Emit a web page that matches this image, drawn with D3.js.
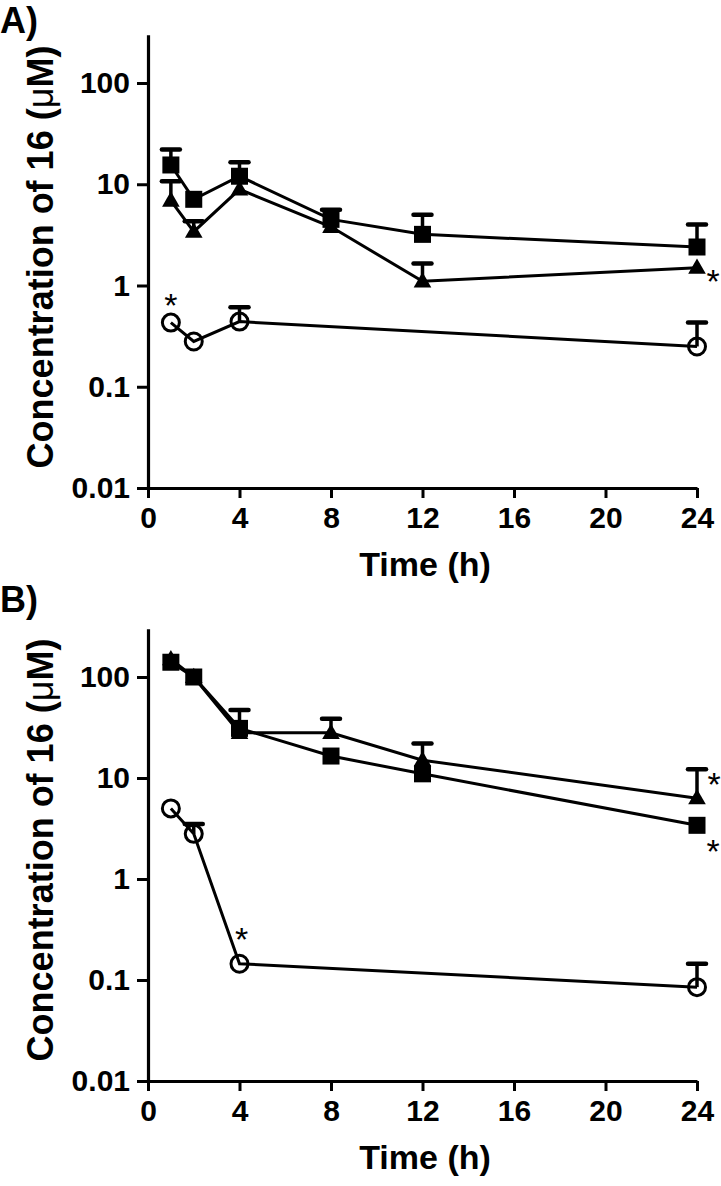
<!DOCTYPE html>
<html>
<head>
<meta charset="utf-8">
<script src="https://cdn.jsdelivr.net/npm/d3@7"></script>
<style>
  html, body { margin: 0; padding: 0; background: #fff; }
  svg { display: block; }
  text { font-family: "Liberation Sans", Arial, sans-serif; fill: #000; }
</style>
</head>
<body>
<script>
// ---------- data ----------
const times = [1, 2, 4, 8, 12, 24];
const circleTimes = [1, 2, 4, 24];
const xTicks = [0, 4, 8, 12, 16, 20, 24];
const yTicks = [0.01, 0.1, 1, 10, 100];
const yTickLabels = ["0.01", "0.1", "1", "10", "100"];

// Panel A
const aSquare      = [15.5, 7.1, 12.0, 4.5, 3.2, 2.4];
const aSquareErr   = [22, null, 16.5, 5.6, 5.0, 4.0];
const aTriangle    = [6.9, 3.4, 8.9, 3.8, 1.1, 1.5];
const aTriangleErr = [10.7, 4.3, null, null, 1.65, null];
const aCircle      = [0.43, 0.28, 0.44, 0.25];
const aCircleErr   = [null, null, 0.61, 0.43];

// Panel B
const bSquare      = [140, 100, 31, 16.5, 11, 3.4];
const bSquareErr   = [null, null, 47, null, null, null];
const bTriangle    = [150, 100, 28, 28, 15, 6.3];
const bTriangleErr = [null, null, null, 38.5, 22, 12.2];
const bCircle      = [5.0, 2.8, 0.145, 0.085];
const bCircleErr   = [null, 3.5, null, 0.145];

// significance marks, anchored to a point (time, value)
const aStars = [{t: 1, v: 0.43, side: "above"}, {t: 24, v: 1.5, side: "right"}];
const bStars = [{t: 24, v: 6.3, side: "rightUp"}, {t: 24, v: 3.4, side: "rightDown"}, {t: 4, v: 0.145, side: "aboveFar"}];

const xTitle = "Time (h)";

// ---------- drawing ----------
const W = 721, H = 1186;
const svg = d3.select("body").append("svg").attr("width", W).attr("height", H);

const x = d3.scaleLinear().domain([0, 24]).range([148, 697]);
const starOffset = {
  above:     [0, -25],
  aboveFar:  [2, -32],
  right:     [16, 6],
  rightUp:   [17, -22],
  rightDown: [16, 18]
};

function drawPanel(cfg) {
  const g = svg.append("g");
  const y = d3.scaleLog().domain([0.01, 300])
    .range([cfg.yBottom, cfg.yBottom - Math.log10(30000) * cfg.decade]);

  // axes
  const ya = g.append("g").attr("transform", "translate(148,0)")
    .call(d3.axisLeft(y).tickValues(yTicks).tickFormat((d, i) => yTickLabels[i])
      .tickSize(11).tickPadding(7).tickSizeOuter(0));
  const xa = g.append("g").attr("transform", `translate(0,${cfg.yBottom})`)
    .call(d3.axisBottom(x).tickValues(xTicks).tickFormat(d3.format("d"))
      .tickSize(10).tickPadding(9).tickSizeOuter(0));
  [ya, xa].forEach(a => {
    a.select(".domain").attr("stroke", "#000").attr("stroke-width", 3.2);
    a.selectAll(".tick line").attr("stroke", "#000").attr("stroke-width", 3);
    a.selectAll(".tick text").style("font-size", "30px").style("font-weight", "bold")
      .style("font-family", "'Liberation Sans', Arial, sans-serif").attr("fill", "#000");
  });

  // error bars (upper only)
  function errBars(tArr, vals, errs) {
    const d = tArr.map((t, i) => ({t, v: vals[i], e: errs[i]})).filter(o => o.e != null);
    const eg = g.append("g");
    eg.selectAll("line.stem").data(d).join("line").attr("class", "stem")
      .attr("x1", o => x(o.t)).attr("x2", o => x(o.t))
      .attr("y1", o => y(o.v)).attr("y2", o => y(o.e))
      .attr("stroke", "#000").attr("stroke-width", 3.5);
    eg.selectAll("line.cap").data(d).join("line").attr("class", "cap")
      .attr("x1", o => x(o.t) - 9).attr("x2", o => x(o.t) + 9)
      .attr("y1", o => y(o.e)).attr("y2", o => y(o.e))
      .attr("stroke", "#000").attr("stroke-width", 4.5).attr("stroke-linecap", "round");
  }
  errBars(times, cfg.sq, cfg.sqErr);
  errBars(times, cfg.tri, cfg.triErr);
  errBars(circleTimes, cfg.cir, cfg.cirErr);

  // lines
  const line = d3.line().x(d => x(d[0])).y(d => y(d[1]));
  [[times, cfg.tri], [times, cfg.sq], [circleTimes, cfg.cir]].forEach(([tArr, vals]) => {
    g.append("path").datum(tArr.map((t, i) => [t, vals[i]]))
      .attr("d", line).attr("fill", "none").attr("stroke", "#000").attr("stroke-width", 3);
  });

  // markers
  const triSym = d3.symbol().type(d3.symbolTriangle).size(135);
  g.append("g").selectAll("path").data(times.map((t, i) => [t, cfg.tri[i]])).join("path")
    .attr("d", triSym).attr("transform", d => `translate(${x(d[0])},${y(d[1]) + 1})`)
    .attr("fill", "#000");
  g.append("g").selectAll("rect").data(times.map((t, i) => [t, cfg.sq[i]])).join("rect")
    .attr("x", d => x(d[0]) - 8.5).attr("y", d => y(d[1]) - 8.5)
    .attr("width", 17).attr("height", 17).attr("fill", "#000");
  g.append("g").selectAll("circle").data(circleTimes.map((t, i) => [t, cfg.cir[i]])).join("circle")
    .attr("cx", d => x(d[0])).attr("cy", d => y(d[1])).attr("r", 8.5)
    .attr("fill", "none").attr("stroke", "#000").attr("stroke-width", 3);

  // stars
  const starFs = 34;
  g.append("g").selectAll("text").data(cfg.stars).join("text")
    .attr("x", d => x(d.t) + starOffset[d.side][0])
    .attr("y", d => y(d.v) + starOffset[d.side][1] + 0.575 * starFs)
    .attr("text-anchor", "middle")
    .style("font-size", starFs + "px").style("font-weight", "normal")
    .text("*");

  // titles
  g.append("text").attr("x", 425).attr("y", cfg.yBottom + 88)
    .attr("text-anchor", "middle").style("font-size", "34px").style("font-weight", "bold")
    .text(xTitle);
  const yt = g.append("text")
    .attr("transform", `translate(53,${cfg.yBottom - 231}) rotate(-90)`)
    .attr("text-anchor", "middle").style("font-size", "36px").style("font-weight", "bold");
  yt.append("tspan").text("Concentration of 16 (");
  yt.append("tspan").style("font-weight", "normal").text("\u03BC");
  yt.append("tspan").text("M)");
  g.append("text").attr("x", 0).attr("y", cfg.labelY)
    .style("font-size", "36px").style("font-weight", "bold").text(cfg.label);
}

drawPanel({yBottom: 488, decade: 101.25, label: "A)", labelY: 33,
  sq: aSquare, sqErr: aSquareErr, tri: aTriangle, triErr: aTriangleErr,
  cir: aCircle, cirErr: aCircleErr, stars: aStars});
drawPanel({yBottom: 1081, decade: 101, label: "B)", labelY: 612,
  sq: bSquare, sqErr: bSquareErr, tri: bTriangle, triErr: bTriangleErr,
  cir: bCircle, cirErr: bCircleErr, stars: bStars});
</script>
</body>
</html>
